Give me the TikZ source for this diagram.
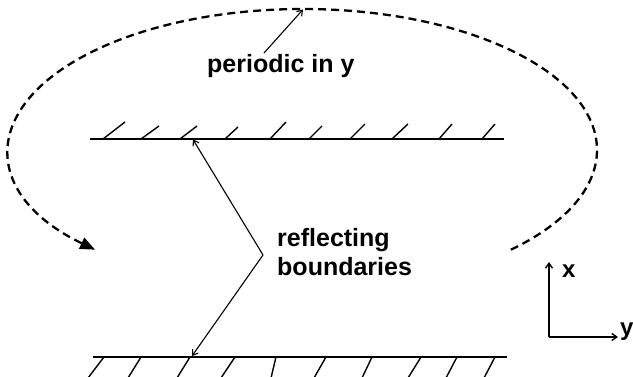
\documentclass[tikz,border=0pt]{standalone}
\usepackage{fontspec}
\setmainfont{Liberation Sans}
\usetikzlibrary{arrows.meta}
\tikzset{
  wall/.style={line width=1.7pt},
  hatch/.style={line width=1.4pt},
  ptr/.style={line width=1.1pt, -{Straight Barb[length=5pt,width=7pt]}},
  period/.style={line width=2.3pt, dash pattern=on 8pt off 5pt, -{Triangle[length=15pt,width=12pt]}},
  lbl/.style={font=\fontsize{25}{30}\selectfont\bfseries, inner sep=0pt, anchor=base west},
  axlbl/.style={font=\fontsize{24}{28}\selectfont\bfseries, inner sep=0pt, anchor=base west},
  axis/.style={line width=1.4pt, -{Straight Barb[length=5pt,width=7pt]}},
}
\begin{document}
\begin{tikzpicture}[x=1pt,y=1pt]
\useasboundingbox (0,0) rectangle (633,-377);
% walls
\coordinate (tl) at (90,-139);
\coordinate (tr) at (504,-139);
\coordinate (bl) at (92.7,-357);
\coordinate (br) at (507,-357);
\draw[wall] (tl) -- (tr);
\draw[wall] (bl) -- (br);
% top hatches (bottom x / top x / top y)
\foreach \a/\b/\c in {103/125/122,141/159/126,180/197/126,225/238/127,270/286/122,309/322/126,350/365/124,392/408/124,439/452/124,482/495/124}
  \draw[hatch] (\a,-139) -- (\b,-\c);
% bottom hatches (top x / bottom x)
\foreach \a/\b in {104/88,141/128,190/177,235/221,276/271,326/314,372/362,421/408,457/446,495/484}
  \draw[hatch] (\a,-357) -- (\b,-378);
% periodic dashed arc
\coordinate (pstart) at (510.9,-249.7);
\draw[period] (pstart) arc[start angle=-45, end angle=225, x radius=294pt, y radius=141pt];
% labels
\node[lbl] (per) at (207,-73) {periodic in y};
\node[lbl] (refl) at (277,-247) {reflecting};
\node[lbl] (bnd) at (277,-276) {boundaries};
% pointer arrows
\coordinate (ptail) at (264,-53);
\coordinate (ptip) at (303,-9.5);
\draw[ptr] (ptail) -- (ptip);
\coordinate (vtx) at (263,-255);
\coordinate (ttip) at (193,-139.5);
\coordinate (btip) at (192,-356);
\draw[ptr] (vtx) -- (ttip);
\draw[ptr] (vtx) -- (btip);
% axes
\coordinate (o) at (549,-337);
\coordinate (xe) at (549,-262);
\coordinate (ye) at (618,-337);
\draw[axis] (o) -- (xe);
\draw[axis] (o) -- (ye);
\node[axlbl] (xl) at (562,-278) {x};
\node[axlbl] (yl) at (620,-336) {y};
\end{tikzpicture}
\end{document}
